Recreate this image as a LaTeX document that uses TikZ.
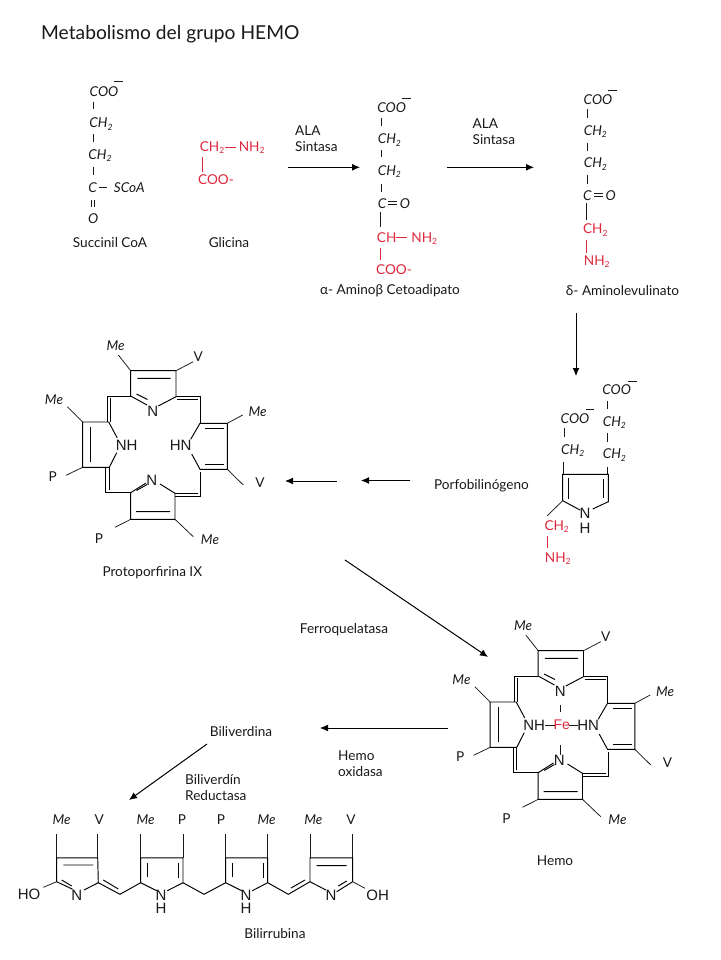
\documentclass[tikz,border=0pt]{standalone}
\usepackage{fontspec}
\setmainfont{Lato}
\newfontfamily\ringfont{Liberation Sans}
\usetikzlibrary{arrows.meta}
\definecolor{chemred}{RGB}{222,40,62}
\definecolor{ink}{RGB}{25,25,25}
\newcommand{\subtwo}{\raisebox{-2.2pt}{\fontsize{8.5}{9}\selectfont 2}}
\tikzset{
  lab/.style={inner sep=0pt,text=ink,font=\fontsize{13.6}{15}\selectfont},
  labit/.style={lab,font=\fontsize{13.6}{15}\selectfont\itshape},
  redlab/.style={lab,text=chemred},
  atom/.style={inner sep=0pt,text=ink,font=\ringfont\fontsize{15}{15}\selectfont},
  bond/.style={draw=ink,line width=0.9pt},
  redbond/.style={draw=chemred,line width=0.9pt},
  ringline/.style={draw=black,line width=0.95pt},
  thin sub/.style={draw=ink,line width=0.75pt},
  rxn/.style={draw=black,line width=1pt,-{Latex[length=8pt,width=7pt]}},
}
\newcommand{\porphyrin}{%
  % top ring
  \draw[ringline] (147,405)--(130.7,396)--(130.7,370.7)--(176,370.7)--(176,396.7)--(158.3,406);
  \draw[ringline] (137.3,378.3)--(170.7,378.3) (136.5,394)--(147.5,399.5);
  % top left bridge
  \draw[ringline] (130.7,396.3)--(107.3,396.3)--(107.3,422) (110.3,398)--(110.3,422);
  % left ring
  \draw[ringline] (117.3,438)--(108.7,422)--(82.7,422)--(82.7,467.3)--(109.3,467.3)--(116.7,452.7);
  \draw[ringline] (90.7,426.7)--(90.7,461.7);
  % bottom left bridge
  \draw[ringline] (105.5,468)--(105.5,492.7)--(130.7,492.7) (109.3,467.3)--(109.3,490);
  % bottom ring
  \draw[ringline] (146,483)--(130.7,492.7)--(130.7,519.3)--(175,519.3)--(175,493.3)--(160,484);
  \draw[ringline] (136,511.7)--(170,511.7) (136.5,490.5)--(147,484.5);
  % bottom right bridge
  \draw[ringline] (175,493.3)--(198,493.3) (175,496)--(200.7,496)--(200.7,471.7);
  % right ring
  \draw[ringline] (190.7,439.3)--(200,423.3)--(227.3,423.3)--(227.3,469.3)--(200,469.3)--(191.7,454);
  \draw[ringline] (205,428.3)--(224,428.3) (205,464)--(224,464);
  % top right bridge
  \draw[ringline] (176,396)--(200,396)--(200,423.3) (177,399.3)--(198,399.3);
  % substituents
  \draw[thin sub] (118.3,355)--(130.7,370.7) (176,370.7)--(193.3,361.7)
    (227.3,423.3)--(242.7,415) (227.3,469.3)--(243.3,485)
    (82.7,422)--(67.3,406.7) (82.7,467.3)--(66,475.3)
    (130.7,519.3)--(115,527.3) (175,519.3)--(193.3,536.7);
  \node[labit] (me1) at (115.7,345.7) {Me};
  \node[lab] (v1) at (198.3,357) {V};
  \node[labit] (me2) at (257.7,411.7) {Me};
  \node[lab] (v2) at (260,482.7) {V};
  \node[labit] (me3) at (54,400) {Me};
  \node[lab] (p1) at (52.7,476.7) {P};
  \node[lab] (p2) at (99,539) {P};
  \node[labit] (me4) at (210,539.3) {Me};
  \node[atom] (n1) at (152.7,411) {N};
  \node[atom] (n2) at (151.7,480.7) {N};
  \node[atom] (nh) at (126.7,445) {NH};
  \node[atom] (hn) at (180.7,445.5) {HN};
}
\begin{document}
\begin{tikzpicture}[x=1pt,y=-1pt]
\path[use as bounding box,fill=white] (0,0) rectangle (720,960);

\node[lab,font=\fontsize{19.2}{22}\selectfont,anchor=west] (title) at (41,34) {Metabolismo del grupo HEMO};

% Succinil CoA
\node[labit] (s1) at (104,92) {COO};
\draw[thin sub] (114,81.7)--(123,81.7) (93.3,101.7)--(93.3,109.3);
\node[labit] (s2) at (101,124) {CH\subtwo};
\draw[thin sub] (93.3,134)--(93.3,142.3);
\node[labit] (s3) at (100,155.7) {CH\subtwo};
\draw[thin sub] (93.3,166.7)--(93.3,175);
\node[labit] (s4) at (92.7,187.7) {C};
\draw[thin sub] (99.3,187.7)--(107.3,187.7);
\node[labit] (s5) at (129.3,187.7) {SCoA};
\draw[thin sub] (91.7,200)--(91.7,207.3) (94.3,200)--(94.3,207.3);
\node[labit] (s6) at (93.3,218.3) {O};
\node[lab] (succ) at (110,242.3) {Succinil CoA};

% Glicina
\node[redlab] (g1) at (212,147.7) {CH\subtwo};
\draw[redbond] (225,147.7)--(236,147.7) (202.7,157.3)--(202.7,171.7);
\node[redlab] (g2) at (251.7,147.7) {NH\subtwo};
\node[redlab] (g3) at (216,179.3) {COO-};
\node[lab] (glic) at (229,242.3) {Glicina};

% ALA 1
\node[lab,anchor=west] (ala1) at (295,130.7) {ALA};
\node[lab,anchor=west] (sin1) at (295,146.7) {Sintasa};
\coordinate (a1s) at (288.3,167.3); \coordinate (a1e) at (360,167.3);
\draw[rxn] (a1s)--(a1e);

% alpha-amino
\node[labit] (a1) at (391.7,107.3) {COO};
\draw[thin sub] (401.7,98.3)--(410.7,98.3) (381.3,118.3)--(381.3,126);
\node[labit] (a2) at (389.3,140) {CH\subtwo};
\draw[thin sub] (381.3,150)--(381.3,157.3);
\node[labit] (a3) at (389.3,171.7) {CH\subtwo};
\draw[thin sub] (381.3,184)--(381.3,191.7);
\node[labit] (a4) at (382,203.3) {C};
\draw[thin sub] (388,201.8)--(396.7,201.8) (388,204.8)--(396.7,204.8);
\node[labit] (a5) at (405,203.3) {O};
\draw[thin sub] (380.7,211.7)--(380.7,227.3);
\node[redlab] (a6) at (386.7,237.3) {CH};
\draw[redbond] (396,237.3)--(406.7,237.3) (380.7,247.7)--(380.7,260);
\node[redlab] (a7) at (424.3,238.3) {NH\subtwo};
\node[redlab] (a8) at (394,269.3) {COO-};
\node[lab] (acet) at (390,290.3) {α- Aminoβ Cetoadipato};

% ALA 2
\node[lab,anchor=west] (ala2) at (472.5,123.3) {ALA};
\node[lab,anchor=west] (sin2) at (472.5,139.3) {Sintasa};
\coordinate (a2s) at (446.7,167.3); \coordinate (a2e) at (534,167.3);
\draw[rxn] (a2s)--(a2e);

% delta-ALA
\node[labit] (d1) at (598,99.3) {COO};
\draw[thin sub] (608.3,90)--(617.3,90) (587.3,109.3)--(587.3,118.3);
\node[labit] (d2) at (595.3,131.7) {CH\subtwo};
\draw[thin sub] (587.3,142.7)--(587.3,150.7);
\node[labit] (d3) at (595.3,164) {CH\subtwo};
\draw[thin sub] (587.3,175)--(587.3,184);
\node[labit] (d4) at (587.3,195.3) {C};
\draw[thin sub] (594,193.8)--(602.7,193.8) (594,196.8)--(602.7,196.8);
\node[labit] (d5) at (610.7,195.3) {O};
\draw[thin sub] (586.7,203.3)--(586.7,220);
\node[redlab] (d6) at (595.3,230) {CH\subtwo};
\draw[redbond] (586.7,240)--(586.7,252.7);
\node[redlab] (d7) at (596.7,261.7) {NH\subtwo};
\node[lab] (dala) at (622.5,290.7) {δ- Aminolevulinato};

\coordinate (a3s) at (576,313); \coordinate (a3e) at (576,376);
\draw[rxn] (a3s)--(a3e);

% Porfobilinogeno
\node[labit] (b1) at (616.7,390) {COO};
\draw[thin sub] (628.3,381)--(636.7,381) (607.3,401)--(607.3,409.3);
\node[labit] (b2) at (614.3,422.7) {CH\subtwo};
\draw[thin sub] (607.3,433.3)--(607.3,441.7);
\node[labit] (b3) at (614.3,455) {CH\subtwo};
\draw[thin sub] (607.3,466.7)--(607.3,475);
\node[labit] (b4) at (575,418.3) {COO};
\draw[thin sub] (585.7,409)--(594,409) (564.3,428.3)--(564.3,437.3);
\node[labit] (b5) at (572.7,450.7) {CH\subtwo};
\draw[thin sub] (563.3,461.7)--(563.3,475);
\draw[ringline] (580,510)--(562.7,500.7)--(562.7,474.3)--(608.3,474.3)--(608.3,501.7)--(592.7,509);
\draw[ringline] (568.3,478.3)--(568.3,499.3) (603.3,479.3)--(603.3,498.3);
\draw[thin sub] (562.7,500.7)--(547.3,515.7);
\node[atom] (b6) at (585,513.5) {N};
\node[atom] (b7) at (585,528.5) {H};
\node[redlab] (b8) at (556.7,526.7) {CH\subtwo};
\draw[redbond] (547.7,536)--(547.7,548.3);
\node[redlab] (b9) at (557.7,559) {NH\subtwo};
\node[lab] (pbg) at (481.5,485.7) {Porfobilinógeno};

\coordinate (a4s) at (410,480.5); \coordinate (a4e) at (361,480.5);
\draw[rxn] (a4s)--(a4e);
\coordinate (a5s) at (337,481); \coordinate (a5e) at (285,481);
\draw[rxn] (a5s)--(a5e);

% Protoporfirina
\begin{scope}[name prefix=pp-]
\porphyrin
\end{scope}
\node[lab] (proto) at (152.3,572.7) {Protoporfirina IX};

\coordinate (a6s) at (345,560); \coordinate (a6e) at (488,657);
\draw[rxn] (a6s)--(a6e);
\node[lab] (ferro) at (344,630) {Ferroquelatasa};

% Hemo
\begin{scope}[shift={(407.5,280)},name prefix=hm-]
\porphyrin
\end{scope}
\node[redlab,font=\ringfont\fontsize{14}{15}\selectfont] (fe) at (561.7,725) {Fe};
\draw[thin sub] (545,725)--(554.5,725) (569,725)--(578.3,725);
\draw[thin sub] (560.7,705)--(560.7,711.7) (560.7,745)--(560.7,755);
\node[lab] (hemo) at (555,860.7) {Hemo};

\coordinate (a7s) at (448,728); \coordinate (a7e) at (320,728);
\draw[rxn] (a7s)--(a7e);
\node[lab,anchor=west] (ho1) at (338,756) {Hemo};
\node[lab,anchor=west] (ho2) at (338,772) {oxidasa};
\node[lab] (bvd) at (241,732) {Biliverdina};
\coordinate (a8s) at (207,744); \coordinate (a8e) at (129,800);
\draw[rxn] (a8s)--(a8e);
\node[lab,anchor=west] (br1) at (185,780) {Biliverdín};
\node[lab,anchor=west] (br2) at (185,796) {Reductasa};

% Bilirrubina
\foreach \x in {56.7,97.7,140.7,183,225.7,267.7,310,352.7}
  \draw[thin sub] (\x,834)--(\x,857.8);
\node[labit] (m1) at (61.7,820) {Me};
\node[lab] (m2) at (99.3,819.3) {V};
\node[labit] (m3) at (145.7,820) {Me};
\node[lab] (m4) at (182,819.3) {P};
\node[lab] (m5) at (221,819.3) {P};
\node[labit] (m6) at (266.7,820) {Me};
\node[labit] (m7) at (313.3,820) {Me};
\node[lab] (m8) at (351,819.3) {V};
% ring 1
\draw[ringline] (72.7,889.3)--(56.7,881.7)--(56.7,857.8)--(97.7,857.8)--(98.3,882.7)--(84,890);
\draw[ringline] (63.3,865)--(93.3,865) (61.7,880)--(71.7,886);
\draw[thin sub] (43.3,887.3)--(56.7,881.7);
\node[atom] (hoa) at (29,894) {HO};
\node[atom] (n1a) at (76.7,895) {N};
% bridge 1
\draw[ringline] (98.3,882.7)--(120,894.3)--(140.7,882.7) (103.3,880)--(118.3,889);
% ring 2
\draw[ringline] (156.7,890.7)--(140.7,882.7)--(140.7,857.8)--(183,857.8)--(183,882.7)--(167.3,890.7);
\draw[ringline] (147.3,863.3)--(147.3,877.3) (178.3,863.3)--(178.3,878.3);
\node[atom] (n2a) at (161,895) {N};
\node[atom] (h2a) at (161,908.5) {H};
% bridge 2
\draw[ringline] (183,882.7)--(204,894.3)--(225.7,882.7);
% ring 3
\draw[ringline] (241.7,890.7)--(225.7,882.7)--(225.7,857.8)--(267.7,857.8)--(267.7,882.7)--(252.3,890.7);
\draw[ringline] (232.3,863.3)--(232.3,877.3) (263.3,863.3)--(263.3,878.3);
\node[atom] (n3a) at (246,895) {N};
\node[atom] (h3a) at (246,908.5) {H};
% bridge 3
\draw[ringline] (267.7,882.7)--(288.3,894.3)--(310,881.7) (291,888)--(305,880);
% ring 4
\draw[ringline] (326,890)--(310,881.7)--(310,857.8)--(352.7,857.8)--(352.7,881.7)--(336.7,891.7);
\draw[ringline] (316.7,865.7)--(346.7,865.7) (346.7,881)--(338.3,886);
\draw[thin sub] (352.7,881.7)--(365,888.3);
\node[atom] (n4a) at (331,895) {N};
\node[atom] (oha) at (377.7,895) {OH};
\node[lab] (bili) at (275,934) {Bilirrubina};
\end{tikzpicture}
\end{document}
